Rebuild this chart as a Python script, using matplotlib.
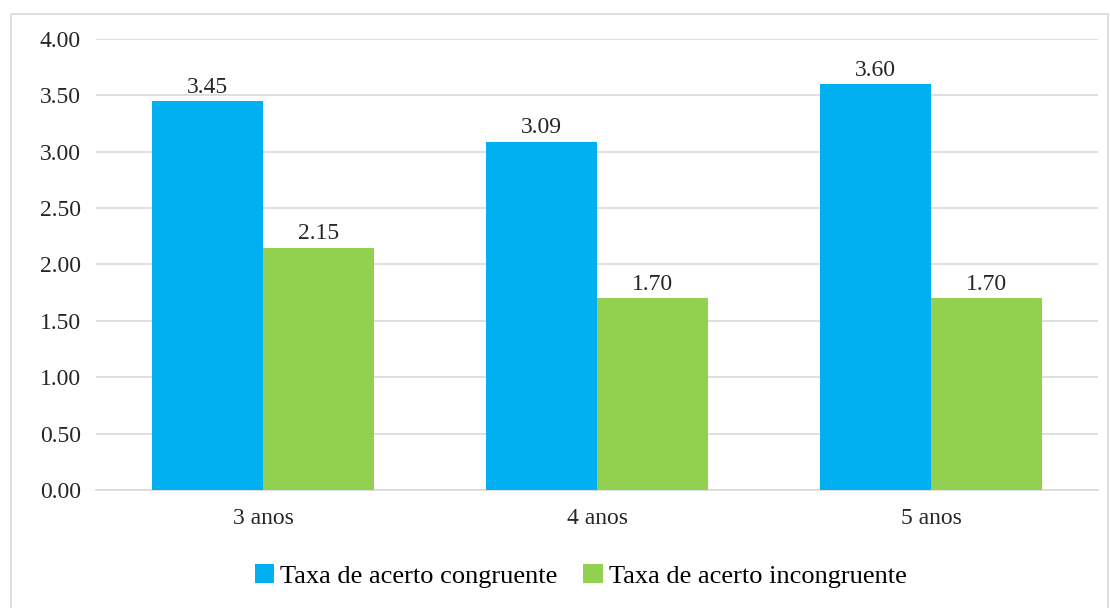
import numpy as np
import matplotlib.pyplot as plt
from matplotlib.patches import Rectangle

# dados
categorias = ["3 anos", "4 anos", "5 anos"]
congruente = [3.45, 3.09, 3.60]
incongruente = [2.15, 1.70, 1.70]
series_nomes = ["Taxa de acerto congruente", "Taxa de acerto incongruente"]
yticks = [0.0, 0.5, 1.0, 1.5, 2.0, 2.5, 3.0, 3.5, 4.0]

plt.rcParams['font.family'] = ['Liberation Serif', 'DejaVu Serif']

fig = plt.figure(figsize=(11.1, 6.08), dpi=100)
ax = fig.add_axes([0.0865, 0.194, 0.9027, 0.742])

# moldura externa do gráfico
fig.patches.append(Rectangle((11 / 1110, -0.01), 1097 / 1110, 1 - 14 / 608 + 0.01,
                             transform=fig.transFigure, fill=False,
                             edgecolor='#d9d9d9', linewidth=1.2))

x = np.arange(len(categorias))
w = 1 / 3
b1 = ax.bar(x - w / 2, congruente, w, color='#00b0f0', label=series_nomes[0], zorder=3)
b2 = ax.bar(x + w / 2, incongruente, w, color='#92d050', label=series_nomes[1], zorder=3)

for bars, vals in [(b1, congruente), (b2, incongruente)]:
    for r, v in zip(bars, vals):
        ax.text(r.get_x() + r.get_width() / 2, v + 0.03, f"{v:.2f}",
                ha='center', va='bottom', fontsize=17, color='#262626', zorder=4)

ax.set_xlim(-0.5, 2.5)
ax.set_ylim(0, 4.0)
ax.set_yticks(yticks)
ax.set_yticklabels([f"{t:.2f}" for t in yticks])
ax.set_xticks(x)
ax.set_xticklabels(categorias)
ax.tick_params(axis='both', length=0, labelsize=17, colors='#262626')
ax.tick_params(axis='y', pad=11)
ax.tick_params(axis='x', pad=13)
ax.grid(axis='y', color='#d9d9d9', linewidth=1.2, zorder=0)
for s in ['top', 'right', 'left']:
    ax.spines[s].set_visible(False)
ax.spines['bottom'].set_color('#d9d9d9')
ax.spines['bottom'].set_linewidth(1.2)

fig.legend(handles=[b1, b2], loc='center', bbox_to_anchor=(0.523, 0.053), ncol=2,
           frameon=False, fontsize=19, handlelength=0.75, handleheight=0.75,
           handletextpad=0.2, columnspacing=1.0)

fig.savefig("out.png", dpi=100)
